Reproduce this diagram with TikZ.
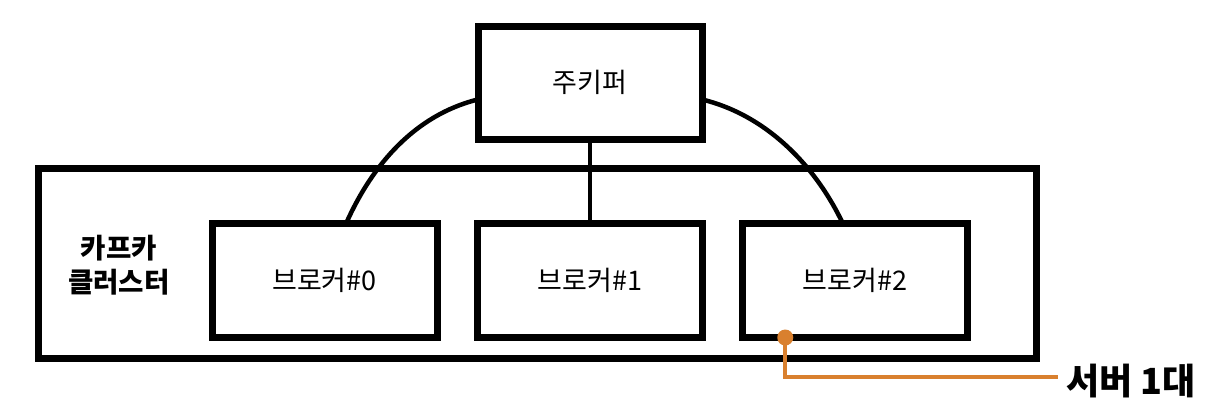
\documentclass[tikz,border=0pt]{standalone}
\usepackage{fontspec}
\setmainfont{Noto Sans CJK KR}
\usetikzlibrary{calc}
\definecolor{accent}{RGB}{217,128,46}
\tikzset{
  boxnode/.style={draw=black, line width=3.5pt, inner sep=0pt, outer sep=0pt, font=\fontsize{13.5pt}{15pt}\selectfont},
  conn/.style={line width=2.25pt, black},
  calloutline/.style={line width=2pt, accent},
}
\begin{document}
\begin{tikzpicture}[x=0.5pt, y=-0.5pt]
\useasboundingbox (0,0) rectangle (1223,414);
\node[boxnode, minimum width=499pt, minimum height=95pt] (cluster) at (537,263.5) {};
\node[boxnode, minimum width=112pt, minimum height=56.5pt] (zk) at (590,82.5) {주키퍼};
\node[boxnode, minimum width=112.5pt, minimum height=57pt] (b0) at (324.5,280.5) {브로커\#0};
\node[boxnode, minimum width=112.5pt, minimum height=57pt] (b1) at (590,280.5) {브로커\#1};
\node[boxnode, minimum width=112.5pt, minimum height=57pt] (b2) at (855,280.5) {브로커\#2};
\node[font=\fontsize{13.8pt}{17pt}\selectfont\bfseries, align=center, inner sep=0pt] (cl) at (119,265) {카프카\\클러스터};
\node[font=\fontsize{18pt}{20pt}\selectfont\bfseries, anchor=west, inner sep=0pt] (lbl) at (1066,381) {서버 1대};
% connectors
\coordinate (zl) at ($(zk.north west)!0.65!(zk.south west)$);
\coordinate (zr) at ($(zk.north east)!0.65!(zk.south east)$);
\coordinate (b0t) at ($(b0.north west)!0.596!(b0.north east)$);
\coordinate (b2t) at ($(b2.north west)!0.446!(b2.north east)$);
\draw[conn] (zl) .. controls (415,115) and (372,165) .. (b0t);
\draw[conn] (zr) .. controls (766,115) and (815,165) .. (b2t);
\draw[conn] (zk.south) -- (b1.north);
% callout
\coordinate (ob) at ($(b2.south west)!0.19!(b2.south east)$);
\draw[calloutline] (ob) |- ($(lbl.west)+(-8,-4)$);
\fill[accent] (ob) circle (4pt);
\end{tikzpicture}
\end{document}
